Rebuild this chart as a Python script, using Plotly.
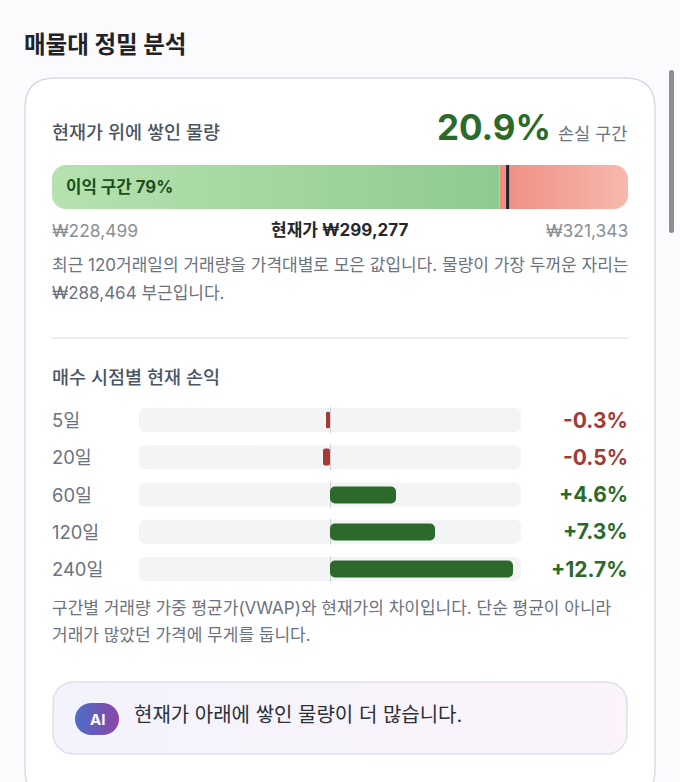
import numpy as np
import plotly.graph_objects as go

######## data
title = "매물대 정밀 분석"
profit_pct = 79.1      # current price marker, also the label
loss_pct = 20.9
split_pct = 77.7       # where green stops and red starts
low_price = "₩228,499"
current_price = "₩299,277"
high_price = "₩321,343"
peak_price = "₩288,464"

periods = ["5일", "20일", "60일", "120일", "240일"]
returns = [-0.3, -0.5, 4.6, 7.3, 12.7]
return_labels = ["-0.3%", "-0.5%", "+4.6%", "+7.3%", "+12.7%"]

######## style
W, H = 680, 782
FONT = "Inter, 'Noto Sans CJK KR', sans-serif"
GREEN = "#2b6a2a"
RED = "#a33a36"
GREY = "#6b7280"
DARK = "#4b5563"
BAR_L, BAR_R = 52, 628       # stacked bar, px
TRACK_L, TRACK_R = 139, 521  # return tracks, px
SCALE = 13.26                # return axis half range, %
ROW_TOP, ROW_BOTTOM = 401.5, 587.7
ROW_H = (ROW_BOTTOM - ROW_TOP) / len(periods)


def rr_path(x0, y0, x1, y1, r):
    # rounded rect as svg path, px
    return (f"M{x0+r},{y0} L{x1-r},{y0} Q{x1},{y0} {x1},{y0+r} L{x1},{y1-r} Q{x1},{y1} {x1-r},{y1} "
            f"L{x0+r},{y1} Q{x0},{y1} {x0},{y1-r} L{x0},{y0+r} Q{x0},{y0} {x0+r},{y0} Z")


def rr_points(x0, y0, x1, y1, rx_left, rx_right, ry):
    # rounded polygon for gradient fills, radius 0 keeps the corner square
    a = np.linspace(0, np.pi / 2, 10)
    xs, ys = [], []
    for cx, cy, rx, start in [(x1 - rx_right, y0 + ry, rx_right, -np.pi / 2), (x1 - rx_right, y1 - ry, rx_right, 0),
                              (x0 + rx_left, y1 - ry, rx_left, np.pi / 2), (x0 + rx_left, y0 + ry, rx_left, np.pi)]:
        xs += list(cx + rx * np.cos(a + start))
        ys += list(cy + ry * np.sin(a + start))
    return xs + xs[:1], ys + ys[:1]


def grad(c0, c1):
    return dict(type="horizontal", colorscale=[[0, c0], [1, c1]])


fig = go.Figure()

######## shapes under the traces
shapes = [
    dict(type="path", path=rr_path(25, 78, 655, 800, 30), xref="x", yref="y", fillcolor="white",
         line=dict(color="#d9dbe3", width=1.5), layer="below"),
    dict(type="path", path=rr_path(669, 70, 674, 233, 2.5), xref="x", yref="y", fillcolor="#8c8c94",
         line=dict(width=0), layer="below"),
    dict(type="line", x0=52, x1=628, y0=338, y1=338, xref="x", yref="y", line=dict(color="#e5e7eb", width=1.5),
         layer="below"),
]
# zero tick sits just right of the bar origin
zero_px = (TRACK_L + TRACK_R) / 2 + 0.6
for i in range(len(periods)):
    cy = ROW_TOP + ROW_H * (i + 0.5)
    shapes.append(dict(type="path", path=rr_path(TRACK_L, cy - 12, TRACK_R, cy + 12, 7), xref="x", yref="y",
                       fillcolor="#f3f4f6", line=dict(width=0), layer="below"))
    shapes.append(dict(type="line", x0=zero_px, x1=zero_px, y0=cy - 13, y1=cy + 13, xref="x", yref="y", layer="below",
                       line=dict(color="#c9cdd3", width=1)))

######## stacked bar
r_pct = 14 / ((BAR_R - BAR_L) / 100)
xs, ys = rr_points(0, 165, split_pct, 209, r_pct, 0, 14)
fig.add_trace(go.Scatter(x=xs, y=ys, xaxis="x2", yaxis="y", mode="none", fill="toself", hoverinfo="skip",
                         fillgradient=grad("#b6e2b0", "#8ecb8e")))
xs, ys = rr_points(split_pct, 165, 100, 209, 0, r_pct, 14)
fig.add_trace(go.Scatter(x=xs, y=ys, xaxis="x2", yaxis="y", mode="none", fill="toself", hoverinfo="skip",
                         fillgradient=grad("#ef8e82", "#f6b9ad")))
fig.add_trace(go.Scatter(x=[profit_pct, profit_pct], y=[165, 209], xaxis="x2", yaxis="y", mode="lines",
                         line=dict(color="#1f2233", width=3), hoverinfo="skip"))

######## return bars
pos = [(p, v) for p, v in zip(periods, returns) if v >= 0]
neg = [(p, v) for p, v in zip(periods, returns) if v < 0]
for rows, color, radius in [(pos, GREEN, 5), (neg, RED, 2.5)]:
    cats = [p for p, v in rows]
    vals = [v for p, v in rows]
    fig.add_trace(go.Bar(y=cats, x=vals, base=[0] * len(vals), orientation="h", xaxis="x3", yaxis="y3",
                         width=17 / ROW_H, marker=dict(color=color, cornerradius=radius, line=dict(width=0)),
                         hoverinfo="skip"))

######## AI box
xs, ys = rr_points(53, 682, 627, 754, 20, 20, 20)
fig.add_trace(go.Scatter(x=xs, y=ys, mode="lines", fill="toself", hoverinfo="skip",
                         line=dict(color="#dfe0ea", width=1.5), fillgradient=grad("#f3f3fc", "#fcf3fb")))
xs, ys = rr_points(75, 703, 119, 735, 16, 16, 16)
fig.add_trace(go.Scatter(x=xs, y=ys, mode="none", fill="toself", hoverinfo="skip",
                         fillgradient=grad("#4a6fc6", "#8c44a6")))


######## text
def txt(x, y, text, size, color, weight=400, anchor="left", yref="y"):
    return dict(x=x, y=y, xref="x", yref=yref, text=text, showarrow=False, xanchor=anchor, yanchor="middle",
                font=dict(family=FONT, size=size, color=color, weight=weight), borderpad=0, borderwidth=0)


annotations = [
    txt(24, 44, title, 23.5, "#1f2329", 700),
    txt(52, 132, "현재가 위에 쌓인 물량", 18.5, DARK, 500),
    txt(551, 127, f"{loss_pct}%", 35, GREEN, 700, "right"),
    txt(627, 133, "손실 구간", 17.5, GREY, 400, "right"),
    txt(66, 187, f"이익 구간 {profit_pct:.0f}%", 16.8, "#1a4f1b", 700),
    txt(52, 230, low_price, 17.4, "#8b8f96"),
    txt(340, 230, f"현재가 {current_price}", 17, "#24272c", 700, "center"),
    txt(628, 230, high_price, 17.4, "#8b8f96", 400, "right"),
    txt(52, 265, "최근 120거래일의 거래량을 가격대별로 모은 값입니다. 물량이 가장 두꺼운 자리는", 17, GREY),
    txt(52, 293, f"{peak_price} 부근입니다.", 17, GREY),
    txt(52, 377, "매수 시점별 현재 손익", 18.5, DARK, 500),
    txt(52, 608, "구간별 거래량 가중 평균가(VWAP)와 현재가의 차이입니다. 단순 평균이 아니라", 17, GREY),
    txt(52, 635, "거래가 많았던 가격에 무게를 둡니다.", 17, GREY),
    txt(97, 719, "AI", 15, "white", 700, "center"),
    txt(134, 715, "현재가 아래에 쌓인 물량이 더 많습니다.", 20, "#2b2f36"),
]
for p, v, lab in zip(periods, returns, return_labels):
    annotations.append(txt(52, p, p, 18.4, GREY, yref="y3"))
    annotations.append(txt(628, p, lab, 21, GREEN if v >= 0 else RED, 700, "right", yref="y3"))

fig.update_layout(
    width=W, height=H, margin=dict(l=0, r=0, t=0, b=0), paper_bgcolor="#fbfbfd", plot_bgcolor="rgba(0,0,0,0)",
    showlegend=False, barmode="overlay", bargap=0, shapes=shapes, annotations=annotations,
    xaxis=dict(range=[0, W], domain=[0, 1], visible=False, fixedrange=True),
    yaxis=dict(range=[H, 0], domain=[0, 1], visible=False, fixedrange=True),
    xaxis2=dict(range=[0, 100], domain=[BAR_L / W, BAR_R / W], anchor="y", visible=False, fixedrange=True),
    xaxis3=dict(range=[-SCALE, SCALE], domain=[TRACK_L / W, TRACK_R / W], anchor="y3", visible=False, fixedrange=True),
    yaxis3=dict(type="category", categoryorder="array", categoryarray=periods, range=[len(periods) - 0.5, -0.5],
                domain=[1 - ROW_BOTTOM / H, 1 - ROW_TOP / H], anchor="x3", visible=False, fixedrange=True),
)

# bars are crispEdges by default, which makes the round corners jagged
post = ("document.body.style.margin='0';document.body.style.overflow='hidden';"
        "var s=document.createElement('style');"
        "s.textContent='.bars path{shape-rendering:geometricPrecision !important}';"
        "document.head.appendChild(s);")
fig.write_html("out.html", config=dict(displayModeBar=False), post_script=post)
